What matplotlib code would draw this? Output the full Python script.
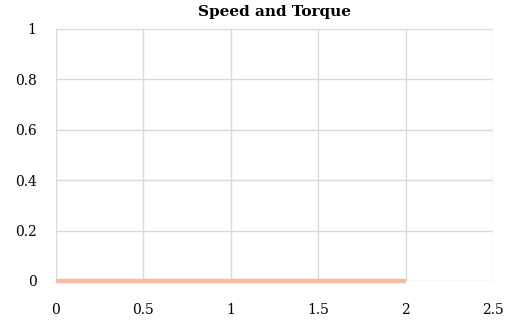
import matplotlib
matplotlib.use("Agg")
import matplotlib.pyplot as plt

title = "Speed and Torque"
time_s = [0, 0.5, 1, 1.5, 2]
speed = [0, 0, 0, 0, 0]
x_ticks = [0, 0.5, 1, 1.5, 2, 2.5]
x_labels = ["0", "0.5", "1", "1.5", "2", "2.5"]
y_ticks = [0, 0.2, 0.4, 0.6, 0.8, 1]
y_labels = ["0", "0.2", "0.4", "0.6", "0.8", "1"]

plt.rcParams['font.family'] = ['DejaVu Serif']
fig = plt.figure(figsize=(5.07, 3.23), dpi=100)
W, H = 507, 323
ax = fig.add_axes([56 / W, 1 - 281 / H, (493 - 56) / W, (281 - 29) / H])
ax.plot(time_s, speed, color="#f5b9a1", lw=3.2, solid_capstyle="butt", clip_on=False, zorder=3)
ax.set_xlim(0, 2.5)
ax.set_ylim(0, 1)
ax.set_xticks(x_ticks)
ax.set_xticklabels(x_labels)
ax.set_yticks(y_ticks)
ax.set_yticklabels(y_labels)
ax.grid(True, color="#d9d9d9", lw=1)
ax.set_axisbelow(True)
for s in ax.spines.values():
    s.set_visible(False)
ax.tick_params(length=0, labelsize=10, colors="#000000")
ax.tick_params(axis="x", pad=16)
ax.tick_params(axis="y", pad=14)
ax.set_title(title, fontsize=11, fontweight="bold", pad=9.5)
fig.savefig("out.png", dpi=100)
